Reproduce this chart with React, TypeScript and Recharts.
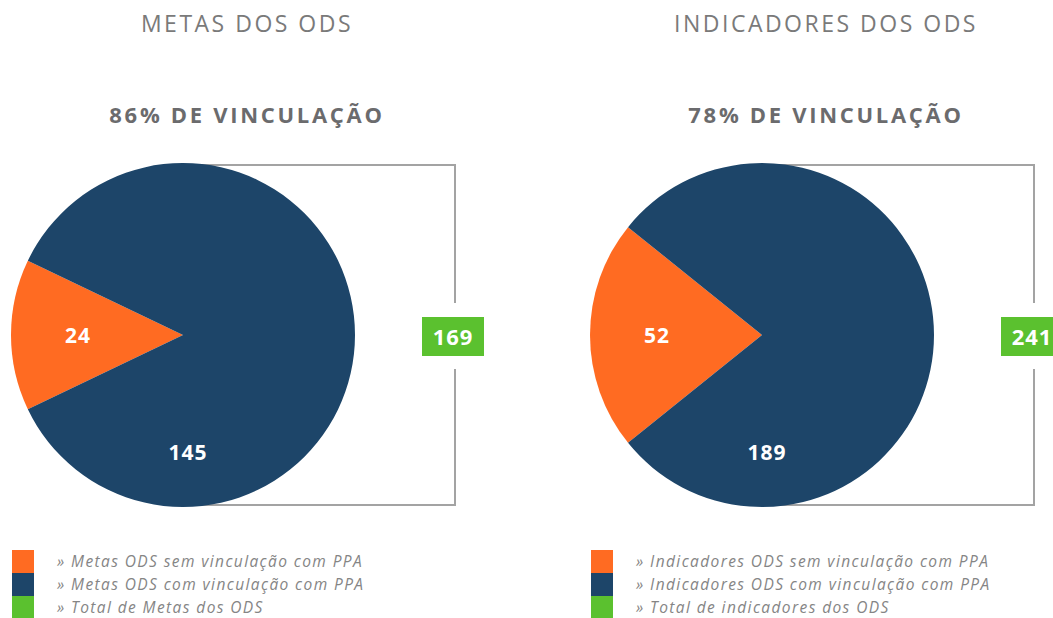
import React from 'react';
import { PieChart, Pie, Cell } from 'recharts';

const metasCategories = ['Metas ODS sem vinculação com PPA', 'Metas ODS com vinculação com PPA'];
const metasValues = [24, 145];
const metasTotal = 169;
const indicadoresCategories = ['Indicadores ODS sem vinculação com PPA', 'Indicadores ODS com vinculação com PPA'];
const indicadoresValues = [52, 189];
const indicadoresTotal = 241;
const titles = ['METAS DOS ODS', 'INDICADORES DOS ODS'];
const subtitles = ['86% DE VINCULAÇÃO', '78% DE VINCULAÇÃO'];
const legendMetas = ['» Metas ODS sem vinculação com PPA', '» Metas ODS com vinculação com PPA', '» Total de Metas dos ODS'];
const legendIndicadores = ['» Indicadores ODS sem vinculação com PPA', '» Indicadores ODS com vinculação com PPA', '» Total de indicadores dos ODS'];
const COLORS = ['#FF6B22', '#1D4569', '#5BC12F'];

const W = 1053;
const H = 618;
const CX = 183;
const CY = 335;
const R = 172;
const OFFSET = 579;
const BRACKET_X = 455;
const FONT = '"Open Sans", "Lato", sans-serif';

const RAD = Math.PI / 180;

const renderLabel = (props: any) => {
  const { cx, cy, midAngle, outerRadius, index, value } = props;
  let x: number;
  let y: number;
  if (index === 0) {
    const rr = outerRadius * 0.61;
    x = cx + rr * Math.cos(-midAngle * RAD);
    y = cy + rr * Math.sin(-midAngle * RAD);
  } else {
    const rr = outerRadius * 0.68;
    x = cx + 5;
    y = cy + rr;
  }
  return (
    <text
      x={x}
      y={y}
      fill="#ffffff"
      textAnchor="middle"
      dominantBaseline="central"
      fontFamily={FONT}
      fontWeight={700}
      fontSize={21}
      letterSpacing={1}
    >
      {value}
    </text>
  );
};

const buildData = (cats: string[], vals: number[]) => cats.map((c, i) => ({ name: c, value: vals[i] }));

const startFor = (vals: number[]) => {
  const total = vals.reduce((a, b) => a + b, 0);
  const half = (360 * vals[0]) / total / 2;
  return 180 + half;
};

const Panel = ({ off, title, subtitle, legend, total }: any) => (
  <>
    <div
      style={{
        position: 'absolute',
        left: off + CX + 64 - 200,
        width: 400,
        top: 8,
        textAlign: 'center',
        fontFamily: FONT,
        fontWeight: 400,
        fontSize: 23,
        letterSpacing: 2.5,
        color: '#7a7a7a',
        lineHeight: '30px',
      }}
    >
      {title}
    </div>
    <div
      style={{
        position: 'absolute',
        left: off + CX + 64 - 200,
        width: 400,
        top: 99,
        textAlign: 'center',
        fontFamily: FONT,
        fontWeight: 700,
        fontSize: 22,
        letterSpacing: 2.7,
        color: '#6b6b6d',
        lineHeight: '30px',
      }}
    >
      {subtitle}
    </div>
    <div
      style={{
        position: 'absolute',
        left: off + BRACKET_X - 33,
        top: 317,
        width: 62,
        height: 39,
        background: COLORS[2],
        color: '#ffffff',
        fontFamily: FONT,
        fontWeight: 700,
        fontSize: 22,
        letterSpacing: 1,
        lineHeight: '39px',
        textAlign: 'center',
      }}
    >
      {total}
    </div>
    {legend.map((t: string, i: number) => (
      <React.Fragment key={t}>
        <div
          style={{
            position: 'absolute',
            left: off + 12,
            top: 550 + i * 23,
            width: 22,
            height: 23,
            background: COLORS[i],
          }}
        />
        <div
          style={{
            position: 'absolute',
            left: off + 57,
            top: 550 + i * 23,
            height: 23,
            lineHeight: '23px',
            fontFamily: FONT,
            fontStyle: 'italic',
            fontSize: 15.5,
            letterSpacing: 1.4,
            color: '#858585',
            whiteSpace: 'nowrap',
          }}
        >
          {t}
        </div>
      </React.Fragment>
    ))}
  </>
);

export default function App() {
  const metasData = buildData(metasCategories, metasValues);
  const indData = buildData(indicadoresCategories, indicadoresValues);
  const s1 = startFor(metasValues);
  const s2 = startFor(indicadoresValues);
  return (
    <div style={{ position: 'fixed', left: 0, top: 0, width: W, height: H, background: '#ffffff', overflow: 'hidden' }}>
      <svg style={{ position: 'absolute', left: 0, top: 0 }} width={W} height={H}>
        {[0, OFFSET].map((o) => (
          <g key={o} stroke="#a3a3a3" strokeWidth={2} fill="none">
            <path d={`M${o + CX},${CY - R + 2} H${o + BRACKET_X} V303`} />
            <path d={`M${o + BRACKET_X},369 V${CY + R - 2} H${o + CX}`} />
          </g>
        ))}
      </svg>
      <div style={{ position: 'absolute', left: 0, top: 0 }}>
        <PieChart width={W} height={H} margin={{ top: 0, right: 0, bottom: 0, left: 0 }}>
          <Pie
            data={metasData}
            dataKey="value"
            nameKey="name"
            cx={CX}
            cy={CY}
            outerRadius={R}
            startAngle={s1}
            endAngle={s1 - 360}
            stroke="none"
            label={renderLabel}
            labelLine={false}
            isAnimationActive={false}
          >
            {metasData.map((d, i) => (
              <Cell key={d.name} fill={COLORS[i]} />
            ))}
          </Pie>
          <Pie
            data={indData}
            dataKey="value"
            nameKey="name"
            cx={CX + OFFSET}
            cy={CY}
            outerRadius={R}
            startAngle={s2}
            endAngle={s2 - 360}
            stroke="none"
            label={renderLabel}
            labelLine={false}
            isAnimationActive={false}
          >
            {indData.map((d, i) => (
              <Cell key={d.name} fill={COLORS[i]} />
            ))}
          </Pie>
        </PieChart>
      </div>
      <Panel off={0} title={titles[0]} subtitle={subtitles[0]} legend={legendMetas} total={metasTotal} />
      <Panel off={OFFSET} title={titles[1]} subtitle={subtitles[1]} legend={legendIndicadores} total={indicadoresTotal} />
    </div>
  );
}
